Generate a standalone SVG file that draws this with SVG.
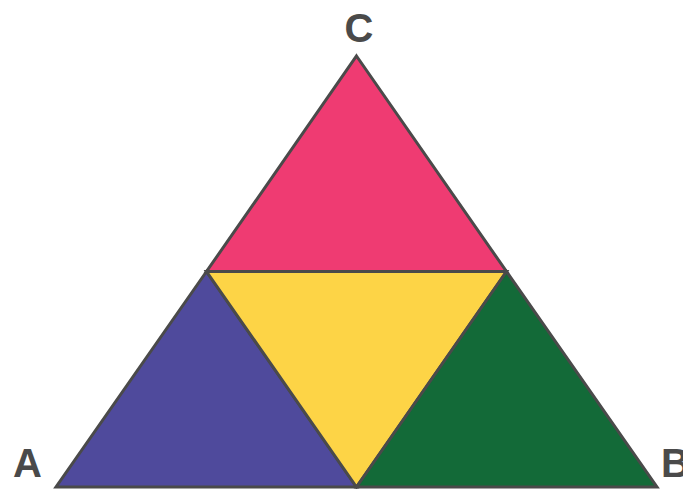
<svg xmlns="http://www.w3.org/2000/svg" width="683" height="489" viewBox="0 0 683 489">
<style>
.tri{stroke:#4a4a4a;stroke-width:3;stroke-linejoin:miter}
.lbl{font-family:"Liberation Sans",Arial,sans-serif;font-weight:bold;font-size:40px;fill:#4a4a4a}
</style>
<rect width="683" height="489" fill="#ffffff"/>
<g id="top"><polygon class="tri" fill="#ef3b72" points="356.5,56 506.5,271.5 206.5,271.5"/></g>
<g id="left"><polygon class="tri" fill="#4f4a9c" points="206.5,271.5 356.5,487 56,487"/></g>
<g id="middle"><polygon class="tri" fill="#fdd446" points="206.5,271.5 506.5,271.5 356.5,487"/></g>
<g id="right"><polygon class="tri" fill="#136a38" points="506.5,271.5 657,487 356.5,487"/></g>
<g id="label-C"><text class="lbl" x="359" y="42" text-anchor="middle">C</text></g>
<g id="label-A"><text class="lbl" x="13" y="477">A</text></g>
<g id="label-B"><text class="lbl" x="661" y="477">B</text></g>
</svg>
